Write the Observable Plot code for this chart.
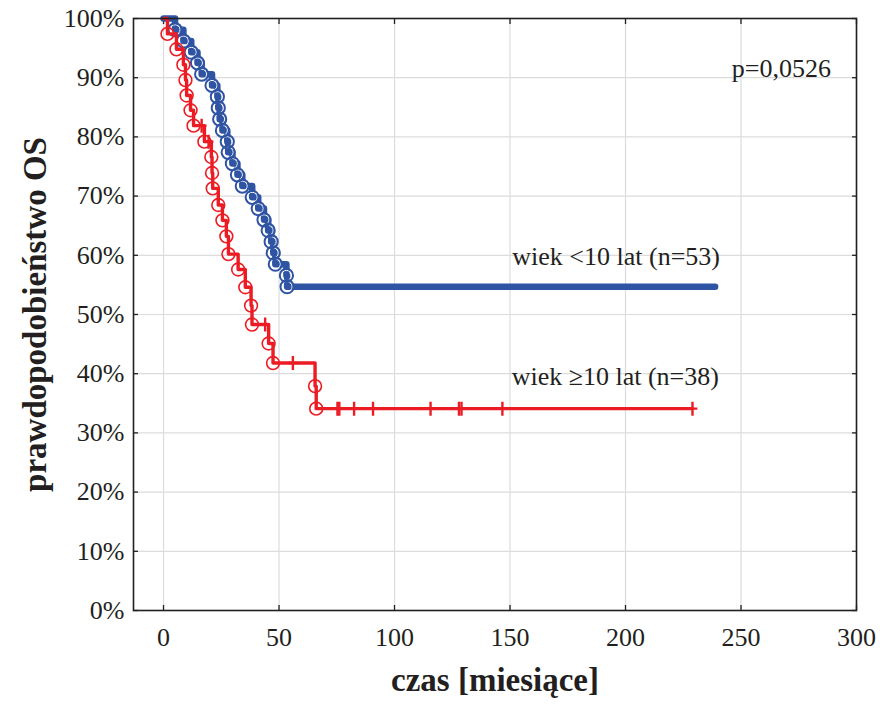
<!DOCTYPE html>
<html>
<head>
<meta charset="utf-8">
<script src="https://cdn.jsdelivr.net/npm/d3@7"></script>
<script src="https://cdn.jsdelivr.net/npm/@observablehq/plot@0.6"></script>
<style>
  html, body { margin: 0; padding: 0; background: #fff; }
  #chart svg { display: block; }
</style>
</head>
<body>
<div id="chart"></div>
<script>
// ---- tick values ----
const xTicks = [0, 50, 100, 150, 200, 250, 300];
const yTicks = [0, 0.1, 0.2, 0.3, 0.4, 0.5, 0.6, 0.7, 0.8, 0.9, 1.0];

// ---- series: wiek <10 lat (n=53) ----
const blueTime = [5.0, 8.6, 12.0, 14.7, 16.5, 21.0, 23.3, 23.7, 24.3, 25.5, 27.6, 28.0, 29.8, 32.0, 34.1, 38.4, 41.0, 43.5, 45.3, 46.6, 47.5, 48.4, 53.2, 53.5];
const blueSurv = [0.981, 0.962, 0.943, 0.925, 0.906, 0.887, 0.868, 0.849, 0.830, 0.811, 0.792, 0.774, 0.755, 0.736, 0.717, 0.698, 0.679, 0.660, 0.642, 0.623, 0.604, 0.585, 0.566, 0.547];
const blueEnd = 238.8;

// ---- series: wiek ≥10 lat (n=38) ----
const redTime = [1.7, 5.6, 8.6, 9.5, 10.0, 11.7, 13.0, 17.7, 20.7, 21.0, 21.3, 23.7, 25.5, 27.2, 28.1, 32.3, 35.4, 37.9, 38.3, 45.5, 47.4, 65.6, 66.1];
const redSurv = [0.974, 0.948, 0.922, 0.896, 0.870, 0.845, 0.819, 0.792, 0.766, 0.739, 0.713, 0.685, 0.659, 0.632, 0.602, 0.576, 0.546, 0.515, 0.483, 0.451, 0.418, 0.379, 0.341];
const redCensorTime = [16.5, 19.5, 44.0, 56.0, 75.3, 76.1, 82.5, 90.7, 115.6, 127.9, 129.0, 146.7, 229.0];
const redEnd = 229.0;

// ---- texts ----
const seriesNames = ["wiek <10 lat (n=53)", "wiek \u226510 lat (n=38)"];
const pText = "p=0,0526";
const xTitle = "czas [miesi\u0105ce]";
const yTitle = "prawdopodobie\u0144stwo OS";

// ---- annotation anchors (data coordinates) ----
const labelX = [151, 150.7, 246];
const labelY = [0.598, 0.395, 0.916];

const BLUE = "#2f54a3";
const RED = "#ec1c24";
const INK = "#231f20";

function steps(times, surv, end) {
  const pts = [{t: 0, s: 1}];
  times.forEach((t, i) => pts.push({t, s: surv[i]}));
  pts.push({t: end, s: surv[surv.length - 1]});
  return pts;
}
function survAt(times, surv, t) {
  let s = 1;
  for (let i = 0; i < times.length; i++) if (times[i] <= t) s = surv[i];
  return s;
}
const bluePts = steps(blueTime, blueSurv, blueEnd);
const redPts = steps(redTime, redSurv, redEnd);
const blueEvents = blueTime.map((t, i) => ({t, s: blueSurv[i]}));
const redEvents = redTime.map((t, i) => ({t, s: redSurv[i]}));
const redCensors = redCensorTime.map(t => ({t, s: survAt(redTime, redSurv, t)}));
const labels = labelX.map((x, i) => ({x, y: labelY[i], text: [...seriesNames, pText][i]}));

const plusSymbol = {
  draw(ctx, size) {
    const r = Math.sqrt(size / Math.PI);
    ctx.moveTo(0, -r); ctx.lineTo(0, r);
    ctx.moveTo(-r * 0.7, 0); ctx.lineTo(r * 0.7, 0);
  }
};

const pct = d => Math.round(d * 100) + "%";

const chart = Plot.plot({
  width: 880,
  height: 708,
  marginLeft: 133,
  marginRight: 24,
  marginTop: 18,
  marginBottom: 98,
  style: {fontFamily: "'Liberation Serif', 'Times New Roman', serif", fontSize: "26px", color: INK, background: "#fff"},
  x: {domain: [-13, 300], axis: null},
  y: {domain: [0, 1], axis: null},
  marks: [
    Plot.gridX(xTicks, {stroke: "#dcdcdc", strokeOpacity: 1, strokeWidth: 1.2}),
    Plot.gridY(yTicks, {stroke: "#dcdcdc", strokeOpacity: 1, strokeWidth: 1.2}),
    // inward ticks on all four sides
    Plot.axisY(yTicks, {anchor: "left", tickSize: -5, fill: "none", label: null, stroke: INK, strokeWidth: 1.3}),
    Plot.axisY(yTicks, {anchor: "right", tickSize: -5, fill: "none", label: null, stroke: INK, strokeWidth: 1.3}),
    Plot.axisX(xTicks, {anchor: "bottom", tickSize: -5, fill: "none", label: null, stroke: INK, strokeWidth: 1.3}),
    Plot.axisX(xTicks, {anchor: "top", tickSize: -5, fill: "none", label: null, stroke: INK, strokeWidth: 1.3}),
    // tick labels
    Plot.axisY(yTicks, {anchor: "left", tickSize: 0, tickPadding: 9, tickFormat: pct, label: null, fontSize: 26, fill: INK}),
    Plot.axisX(xTicks, {anchor: "bottom", tickSize: 0, tickPadding: 17, tickFormat: d => String(d), label: null, fontSize: 26, fill: INK}),
    // blue curve
    Plot.line(bluePts, {x: "t", y: "s", curve: "step-after", stroke: BLUE, strokeWidth: 6.5}),
    Plot.dot(blueEvents, {x: "t", y: "s", r: 5.0, stroke: "#fff", strokeWidth: 1.0, fill: "none"}),
    Plot.dot(blueEvents, {x: "t", y: "s", r: 6.6, stroke: BLUE, strokeWidth: 2.0, fill: "none"}),
    // red curve
    Plot.line(redPts, {x: "t", y: "s", curve: "step-after", stroke: RED, strokeWidth: 3.4}),
    Plot.dot(redEvents, {x: "t", y: "s", r: 6.4, stroke: RED, strokeWidth: 1.6, fill: "none"}),
    Plot.dot(redCensors, {x: "t", y: "s", r: 7, symbol: plusSymbol, stroke: RED, strokeWidth: 2.4, fill: "none"}),
    Plot.frame({stroke: INK, strokeWidth: 1.6}),
    // annotations
    Plot.text(labels, {x: "x", y: "y", text: "text", textAnchor: "start", fontSize: 26, fill: INK}),
    // axis titles
    Plot.text([xTitle], {frameAnchor: "bottom", dy: 80, fontSize: 33, fontWeight: "bold", fill: INK}),
    Plot.text([yTitle], {frameAnchor: "left", dx: -98, rotate: -90, textAnchor: "middle", fontSize: 33, fontWeight: "bold", fill: INK})
  ]
});
document.getElementById("chart").appendChild(chart);
</script>
</body>
</html>
